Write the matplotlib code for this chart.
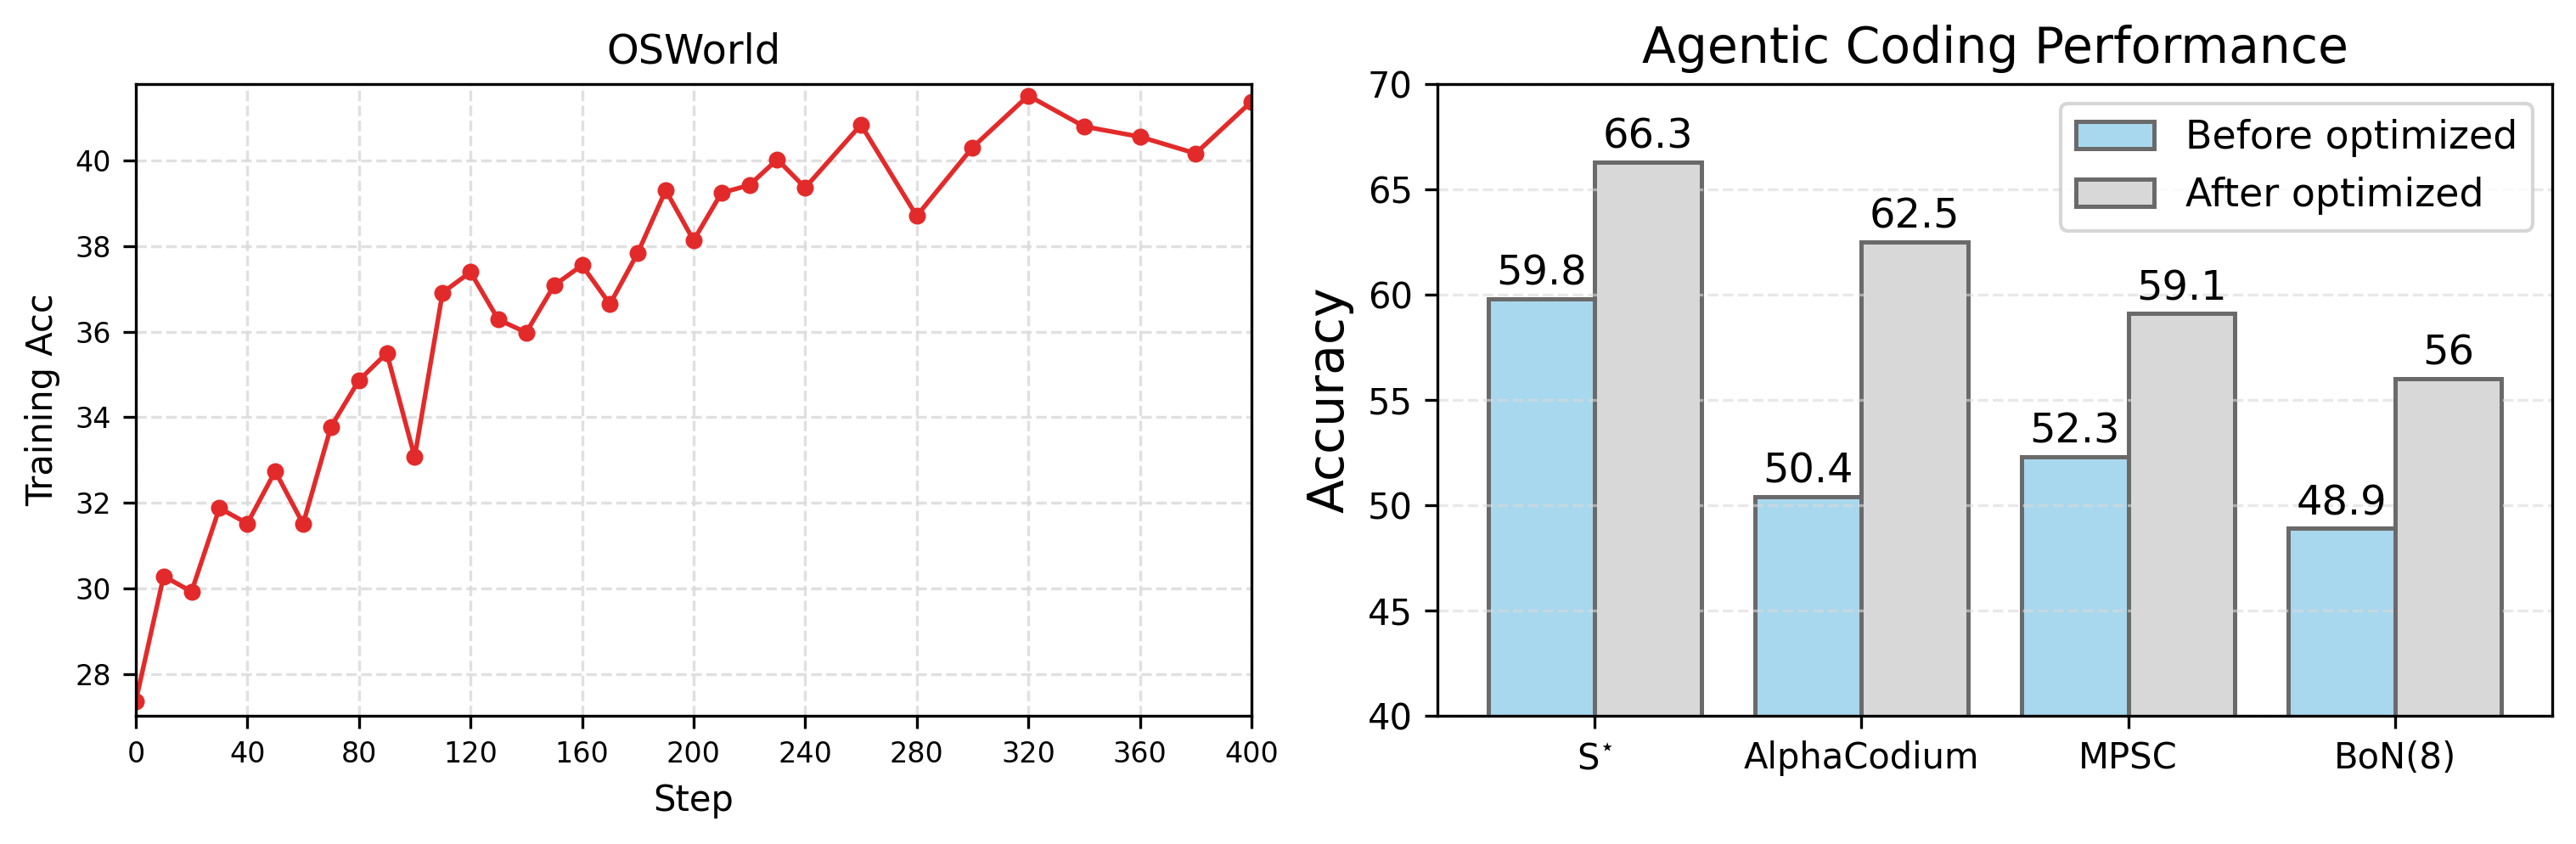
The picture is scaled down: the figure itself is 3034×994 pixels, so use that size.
import matplotlib
matplotlib.use("Agg")
import matplotlib.pyplot as plt

# OSWorld training curve
steps = [0, 10, 20, 30, 40, 50, 60, 70, 80, 90, 100, 110, 120, 130, 140, 150,
         160, 170, 180, 190, 200, 210, 220, 230, 240, 260, 280, 300, 320, 340,
         360, 380, 400]
trainAcc = [27.37, 30.29, 29.93, 31.88, 31.52, 32.74, 31.51, 33.78, 34.86, 35.50,
            33.07, 36.91, 37.39, 36.28, 35.98, 37.08, 37.55, 36.64, 37.84, 39.30,
            38.13, 39.24, 39.42, 40.02, 39.36, 40.83, 38.70, 40.30, 41.51, 40.79,
            40.55, 40.16, 41.37]
stepTicks = [0, 40, 80, 120, 160, 200, 240, 280, 320, 360, 400]
accTicks = [28, 30, 32, 34, 36, 38, 40]

# agentic coding bars
methods = ["S$^{\\star}$", "AlphaCodium", "MPSC", "BoN(8)"]
beforeOpt = [59.8, 50.4, 52.3, 48.9]
afterOpt = [66.3, 62.5, 59.1, 56]


def drawCurve(ax):
    ax.plot(steps, trainAcc, color="#E32A2A", marker="o", markersize=3.8,
            linewidth=1.3)
    ax.set_xlim(0, 400)
    ax.set_ylim(27.03, 41.78)
    ax.set_xticks(stepTicks)
    ax.set_yticks(accTicks)
    ax.tick_params(labelsize=8)
    ax.grid(True, linestyle="--", color="#d9d9d9", linewidth=0.8, alpha=0.8)
    ax.set_title("OSWorld", fontsize=11.5)
    ax.set_xlabel("Step", fontsize=10)
    ax.set_ylabel("Training Acc", fontsize=10)


def drawBars(ax):
    width = 0.4
    xs = list(range(len(methods)))
    b1 = ax.bar([x - width / 2 for x in xs], beforeOpt, width,
                color="#A8D8EE", edgecolor="#6A6A6A", linewidth=1.2,
                label="Before optimized")
    b2 = ax.bar([x + width / 2 for x in xs], afterOpt, width,
                color="#D8D8D8", edgecolor="#6A6A6A", linewidth=1.2,
                label="After optimized")
    ax.bar_label(b1, fmt="%g", padding=1.5, fontsize=11.5)
    ax.bar_label(b2, fmt="%g", padding=1.5, fontsize=11.5)

    ax.set_ylim(40, 70)
    ax.set_xticks(xs)
    ax.set_xticklabels(methods)
    ax.tick_params(labelsize=10)
    ax.yaxis.grid(True, linestyle="--", color="#d9d9d9", linewidth=0.8, alpha=0.6)
    ax.set_title("Agentic Coding Performance", fontsize=14)
    ax.set_ylabel("Accuracy", fontsize=14)
    ax.legend(loc="upper right", fontsize=11)


def main():
    fig = plt.figure(figsize=(3034 / 300, 994 / 300), dpi=300)
    axLeft = fig.add_axes([0.0527, 0.1519, 0.4331, 0.7485])
    axRight = fig.add_axes([0.558, 0.1519, 0.4328, 0.7485])

    drawCurve(axLeft)
    drawBars(axRight)

    fig.savefig("out.png", dpi=300)


if __name__ == '__main__':
    main()
